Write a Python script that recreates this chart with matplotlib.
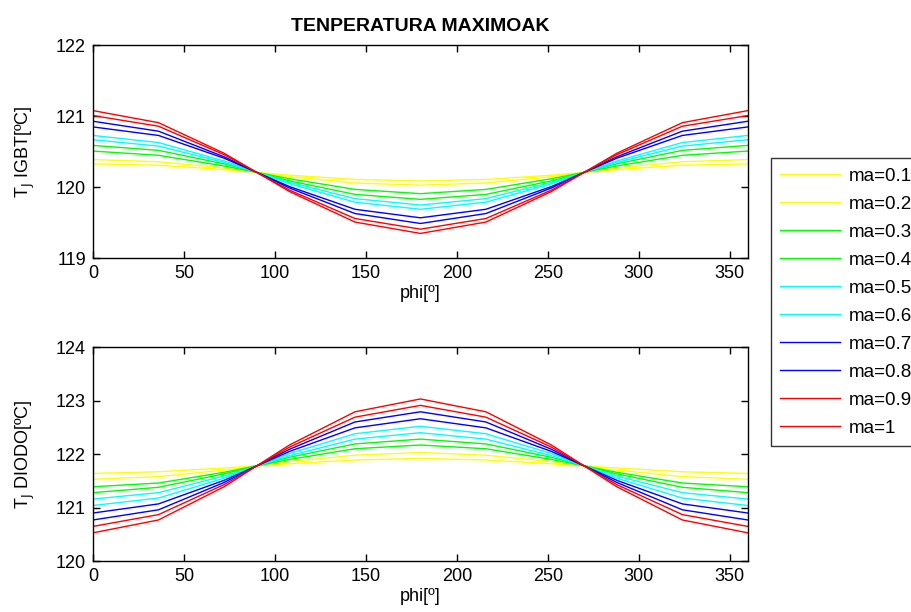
import matplotlib
matplotlib.use("Agg")
from matplotlib import pyplot as plt

plt.rcParams['font.family'] = ['Liberation Sans', 'DejaVu Sans']

phi = [0, 36, 72, 108, 144, 180, 216, 252, 288, 324, 360]
labels = ['ma=0.1', 'ma=0.2', 'ma=0.3', 'ma=0.4', 'ma=0.5',
          'ma=0.6', 'ma=0.7', 'ma=0.8', 'ma=0.9', 'ma=1']
colors = ['#ffff00', '#ffff00', '#00ff00', '#00ff00', '#00ffff',
          '#00ffff', '#0000ff', '#0000ff', '#ff0000', '#ff0000']

# IGBT max junction temperature, one row per ma
tj_igbt = [
    [120.33, 120.31, 120.25, 120.17, 120.11, 120.09, 120.11, 120.17, 120.25, 120.31, 120.33],
    [120.39, 120.36, 120.27, 120.15, 120.06, 120.03, 120.06, 120.15, 120.27, 120.36, 120.39],
    [120.51, 120.45, 120.30, 120.12, 119.97, 119.91, 119.97, 120.12, 120.30, 120.45, 120.51],
    [120.59, 120.52, 120.33, 120.09, 119.90, 119.83, 119.90, 120.09, 120.33, 120.52, 120.59],
    [120.67, 120.58, 120.35, 120.07, 119.84, 119.75, 119.84, 120.07, 120.35, 120.58, 120.67],
    [120.73, 120.63, 120.37, 120.05, 119.79, 119.69, 119.79, 120.05, 120.37, 120.63, 120.73],
    [120.85, 120.73, 120.41, 120.01, 119.69, 119.57, 119.69, 120.01, 120.41, 120.73, 120.85],
    [120.93, 120.79, 120.43, 119.99, 119.63, 119.49, 119.63, 119.99, 120.43, 120.79, 120.93],
    [121.01, 120.86, 120.46, 119.96, 119.56, 119.41, 119.56, 119.96, 120.46, 120.86, 121.01],
    [121.08, 120.91, 120.48, 119.94, 119.51, 119.35, 119.51, 119.94, 120.48, 120.91, 121.08],
]

# diode max junction temperature
tj_diodo = [
    [121.64, 121.67, 121.74, 121.82, 121.89, 121.92, 121.89, 121.82, 121.74, 121.67, 121.64],
    [121.53, 121.58, 121.70, 121.86, 121.98, 122.03, 121.98, 121.86, 121.70, 121.58, 121.53],
    [121.39, 121.46, 121.66, 121.90, 122.10, 122.17, 122.10, 121.90, 121.66, 121.46, 121.39],
    [121.28, 121.38, 121.63, 121.94, 122.19, 122.28, 122.19, 121.94, 121.63, 121.38, 121.28],
    [121.16, 121.28, 121.59, 121.97, 122.28, 122.40, 122.28, 121.97, 121.59, 121.28, 121.16],
    [121.04, 121.18, 121.55, 122.01, 122.38, 122.52, 122.38, 122.01, 121.55, 121.18, 121.04],
    [120.90, 121.07, 121.51, 122.05, 122.49, 122.66, 122.49, 122.05, 121.51, 121.07, 120.90],
    [120.77, 120.96, 121.47, 122.09, 122.60, 122.79, 122.60, 122.09, 121.47, 120.96, 120.77],
    [120.65, 120.87, 121.43, 122.13, 122.69, 122.91, 122.69, 122.13, 121.43, 120.87, 120.65],
    [120.53, 120.77, 121.39, 122.17, 122.79, 123.03, 122.79, 122.17, 121.39, 120.77, 120.53],
]

fig = plt.figure(figsize=(9.12, 6.12), dpi=100)
ax1 = fig.add_axes([0.102, 0.578, 0.718, 0.348])
ax2 = fig.add_axes([0.102, 0.083, 0.718, 0.350])

for i in range(len(labels)):
    ax1.plot(phi, tj_igbt[i], color=colors[i], lw=1, label=labels[i])
    ax2.plot(phi, tj_diodo[i], color=colors[i], lw=1)

ax1.set_ylim(119, 122)
ax1.set_yticks([119, 120, 121, 122])
ax2.set_ylim(120, 124)
ax2.set_yticks([120, 121, 122, 123, 124])

for ax in (ax1, ax2):
    ax.set_xlim(0, 360)
    ax.set_xticks(range(0, 360, 50))
    ax.tick_params(direction='in', top=True, right=True, labelsize=13,
                   length=5, width=1, pad=5)
    for s in ax.spines.values():
        s.set_linewidth(1)
    ax.set_xlabel('phi[º]', fontsize=13, labelpad=2)

ax1.set_title('TENPERATURA MAXIMOAK', fontsize=14, fontweight='bold', pad=10)
ax1.set_ylabel(r'T$_{\rm J}$ IGBT[ºC]', fontsize=13, labelpad=14)
ax2.set_ylabel(r'T$_{\rm J}$ DIODO[ºC]', fontsize=13, labelpad=14)

leg = fig.legend(loc='lower left', bbox_to_anchor=(771 / 912, 1 - 446 / 612),
                 fontsize=13.5, frameon=True, fancybox=False, handlelength=3.2,
                 handletextpad=0.45, labelspacing=0.58, borderpad=0.5,
                 borderaxespad=0)
leg.get_frame().set_edgecolor('black')
leg.get_frame().set_linewidth(1)

plt.savefig('out.png', dpi=100)
plt.close()
